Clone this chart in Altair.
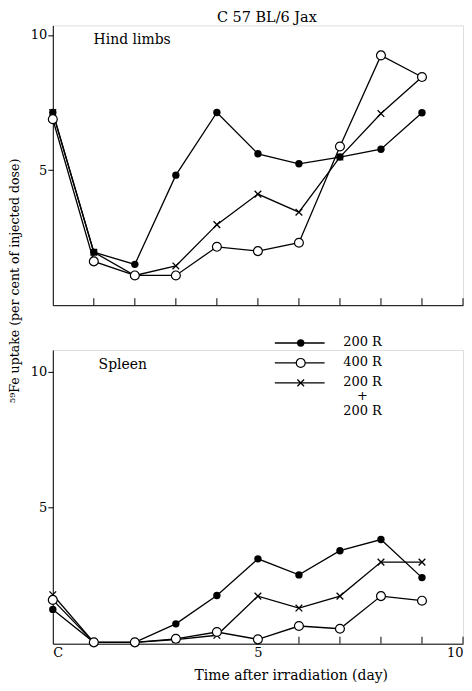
import altair as alt
import pandas as pd

FONT = "DejaVu Serif"

days = [0, 1, 2, 3, 4, 5, 6, 7, 8, 9]
series_names = ["200 R", "400 R", "200 R + 200 R"]

hind_200 = [7.13, 1.96, 1.51, 4.81, 7.13, 5.60, 5.23, 5.48, 5.77, 7.12]
hind_400 = [6.88, 1.62, 1.10, 1.10, 2.16, 2.00, 2.31, 5.87, 9.24, 8.44]
hind_2x200 = [7.13, 1.96, 1.10, 1.45, 2.98, 4.11, 3.44, 5.48, 7.09, 8.44]

spleen_200 = [1.26, 0.05, 0.05, 0.73, 1.77, 3.12, 2.53, 3.42, 3.83, 2.43]
spleen_400 = [1.61, 0.05, 0.05, 0.18, 0.43, 0.16, 0.65, 0.55, 1.75, 1.58]
spleen_2x200 = [1.80, 0.05, 0.05, 0.15, 0.31, 1.75, 1.31, 1.75, 3.00, 3.00]

ticks_top = [1, 2, 3, 4, 5, 6, 7, 8, 9, 10]
ticks_bottom = [6, 7, 8, 9, 10]
legend_labels = ["200 R", "400 R", "200 R\n+\n200 R"]

rows = []
for panel, vals in [("hind", [hind_200, hind_400, hind_2x200]),
                    ("spleen", [spleen_200, spleen_400, spleen_2x200])]:
    for s, v in zip(series_names, vals):
        for d, val in zip(days, v):
            rows.append({"panel": panel, "series": s, "day": d, "value": val})
df = pd.DataFrame(rows)

legend_df = pd.DataFrame({"series": series_names, "label": legend_labels})

W = 412
LX = 223  # legend line start (relative)


def make_panel(name, H, ymax, tick_vals, bottom, label_text, label_x, label_y):
    xaxis = (alt.Axis(values=[0, 5, 10], ticks=False, grid=False, domainColor="black",
                      labelExpr="datum.value == 0 ? 'C' : datum.value",
                      labelFont=FONT, labelFontSize=13, labelColor="black",
                      labelPadding=3, labelFlush=True, title="Time after irradiation (day)",
                      titleFont=FONT, titleFontSize=14, titleFontWeight="normal",
                      titleColor="black", titleX=239, titlePadding=9)
             if bottom else
             alt.Axis(labels=False, ticks=False, grid=False, title=None, domainColor="black"))
    x = alt.X("day:Q", scale=alt.Scale(domain=[0, 10], nice=False), axis=xaxis)
    yaxis_kwargs = dict(values=[5, 10], tickSize=5, tickColor="black", domainColor="black",
                        grid=False, labelFont=FONT, labelFontSize=13, labelColor="black",
                        labelPadding=1)
    if not bottom:
        yaxis_kwargs.update(title="⁵⁹Fe uptake (per cent of injected dose)", titleFont=FONT,
                            titleFontSize=12.6, titleFontWeight="normal", titleColor="black",
                            titleAngle=270, titleX=-31, titleY=256, titleAlign="center",
                            titleBaseline="bottom")
    else:
        yaxis_kwargs.update(title=None)
    y = alt.Y("value:Q", scale=alt.Scale(domain=[0, ymax], nice=False), axis=alt.Axis(**yaxis_kwargs))

    base = alt.Chart(df).transform_filter(alt.datum.panel == name)
    lines = base.mark_line(color="black", strokeWidth=1.3).encode(x=x, y=y, detail="series:N")
    p200 = base.transform_filter(alt.datum.series == "200 R").mark_point(
        shape="circle", filled=True, color="black", size=55, opacity=1).encode(x=x, y=y)
    p2x = base.transform_filter(alt.datum.series == "200 R + 200 R").mark_point(
        shape="M-1,-1L1,1M-1,1L1,-1", filled=False, color="black", size=45,
        strokeWidth=1.3, opacity=1).encode(x=x, y=y)
    p400 = base.transform_filter(alt.datum.series == "400 R").mark_point(
        shape="circle", filled=True, fill="white", stroke="black", strokeWidth=1.2,
        size=80, opacity=1).encode(x=x, y=y)

    tick_df = pd.DataFrame({"t": tick_vals})
    ticks = alt.Chart(tick_df).mark_rule(color="black", strokeWidth=1).encode(
        x=alt.X("t:Q"), y=alt.value(H), y2=alt.value(H - 7))

    lab = alt.Chart(pd.DataFrame({"txt": [label_text]})).mark_text(
        align="left", baseline="middle", font=FONT, fontSize=14, color="black").encode(
        text="txt:N", x=alt.value(label_x), y=alt.value(label_y))

    layers = [ticks, lines, p200, p2x, p400, lab]

    if not bottom:
        title = alt.Chart(pd.DataFrame({"txt": ["C 57 BL/6 Jax"]})).mark_text(
            align="center", baseline="middle", font=FONT, fontSize=14.5, color="black").encode(
            text="txt:N", x=alt.value(215), y=alt.value(-7))
        layers.append(title)
    else:
        row_y = [-7, 13, 33]
        for i, s in enumerate(series_names):
            ld = alt.Chart(legend_df).transform_filter(alt.datum.series == s)
            layers.append(ld.mark_rule(color="black", strokeWidth=1.3).encode(
                x=alt.value(LX), x2=alt.value(LX + 50), y=alt.value(row_y[i])))
            if s == "200 R":
                layers.append(ld.mark_point(shape="circle", filled=True, color="black",
                                            size=55, opacity=1).encode(
                    x=alt.value(LX + 26), y=alt.value(row_y[i])))
            elif s == "400 R":
                layers.append(ld.mark_point(shape="circle", filled=True, fill="white",
                                            stroke="black", strokeWidth=1.2, size=80,
                                            opacity=1).encode(
                    x=alt.value(LX + 26), y=alt.value(row_y[i])))
            else:
                layers.append(ld.mark_point(shape="M-1,-1L1,1M-1,1L1,-1", filled=False,
                                            color="black", size=45, strokeWidth=1.3,
                                            opacity=1).encode(
                    x=alt.value(LX + 26), y=alt.value(row_y[i])))
            layers.append(ld.mark_text(align="center", baseline="top", lineBreak="\n",
                                       lineHeight=14.5, font=FONT, fontSize=13,
                                       color="black").encode(
                text="label:N", x=alt.value(LX + 88), y=alt.value(row_y[i] - 7)))

    return alt.layer(*layers).properties(width=W, height=H)


top = make_panel("hind", 281, 10.35, ticks_top, False, "Hind limbs", 41, 15)
bottom = make_panel("spleen", 295, 10.8, ticks_bottom, True, "Spleen", 46, 15)

chart = alt.vconcat(top, bottom, spacing=45, bounds="flush").properties(
    padding=0).configure_view(stroke=None).configure(background="white")

chart.save("out.html", embed_options={"renderer": "svg", "actions": False})
